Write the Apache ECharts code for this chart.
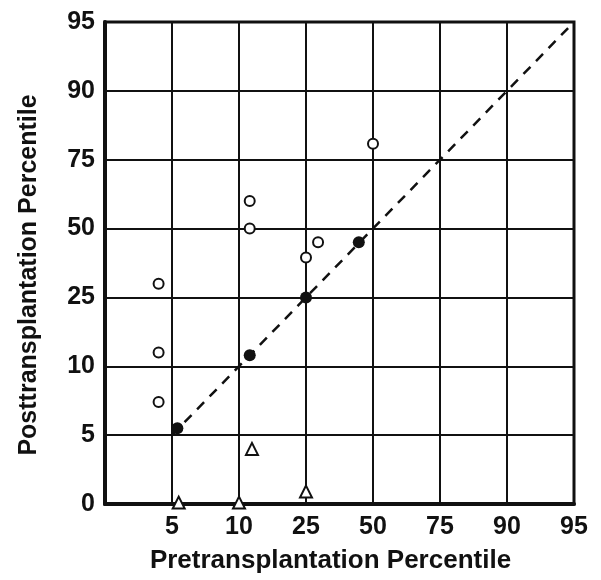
<!DOCTYPE html>
<html><head><meta charset="utf-8">
<script src="https://cdn.jsdelivr.net/npm/echarts@6/dist/echarts.min.js"></script>
<style>html,body{margin:0;padding:0;background:#fff}#c{width:601px;height:580px}</style>
</head><body><div id="c"></div>
<script>
// Percentile tick values (evenly spaced on the chart)
const tickValues = [0, 5, 10, 25, 50, 75, 90, 95];
const xTickLabels = ['', '5', '10', '25', '50', '75', '90', '95'];
const yTickLabels = ['0', '5', '10', '25', '50', '75', '90', '95'];

// Open circles (pre, post)
const openPre  = [4, 4, 4, 12.4, 12.4, 29.5, 25, 50];
const openPost = [30, 13, 7.4, 60, 50, 45, 39.5, 78.5];
// Filled circles
const filledPre  = [5.4, 12.4, 25, 44.7];
const filledPost = [5.5, 12.4, 25, 45];
// Triangles
const triPre  = [5.5, 10, 12.9, 25];
const triPost = [0.1, 0.1, 4, 0.9];
// Reference (identity) line
const linePre  = [5, 95];
const linePost = [5, 95];

// map a percentile onto the evenly spaced tick scale
function toPos(p) {
  for (let i = 1; i < tickValues.length; i++) {
    if (p <= tickValues[i]) {
      const a = tickValues[i - 1], b = tickValues[i];
      return (i - 1) + (p - a) / (b - a);
    }
  }
  return tickValues.length - 1;
}
const pairs = (xs, ys) => xs.map((x, i) => [toPos(x), toPos(ys[i])]);

const FONT = 'Liberation Sans, Arial, sans-serif';
const chart = echarts.init(document.getElementById('c'));
const labelFont = { color: '#111', fontSize: 25, fontWeight: 'bold', fontFamily: FONT };
chart.setOption({
  animation: false,
  backgroundColor: '#fff',
  grid: { left: 105, right: 27, top: 22, bottom: 76, outerBoundsMode: 'none', containLabel: false,
          show: true, borderColor: '#111', borderWidth: 3, backgroundColor: 'transparent' },
  xAxis: {
    type: 'value', min: 0, max: 7, interval: 1,
    name: 'Pretransplantation Percentile', nameLocation: 'middle', nameGap: 44,
    nameTextStyle: { color: '#111', fontSize: 26, fontWeight: 'bold', fontFamily: FONT, padding: [0, 18, 0, 0] },
    axisLine: { show: true, lineStyle: { color: '#111', width: 4 } },
    axisTick: { show: false },
    axisLabel: Object.assign({ margin: 11, formatter: v => xTickLabels[Math.round(v)] }, labelFont),
    splitLine: { show: true, lineStyle: { color: '#111', width: 2 } }
  },
  yAxis: {
    type: 'value', min: 0, max: 7, interval: 1,
    name: 'Posttransplantation Percentile', nameLocation: 'middle', nameGap: 63,
    nameTextStyle: { color: '#111', fontSize: 25, fontWeight: 'bold', fontFamily: FONT, padding: [0, 24, 0, 0] },
    axisLine: { show: true, lineStyle: { color: '#111', width: 4 } },
    axisTick: { show: false },
    axisLabel: Object.assign({ margin: 10, formatter: v => yTickLabels[Math.round(v)] }, labelFont),
    splitLine: { show: true, lineStyle: { color: '#111', width: 2 } }
  },
  series: [
    { type: 'line', data: pairs(linePre, linePost), symbol: 'none', z: 3,
      lineStyle: { color: '#111', width: 2.5, type: [10, 8] } },
    { type: 'scatter', data: pairs(openPre, openPost), symbol: 'circle', symbolSize: 10, z: 4,
      itemStyle: { color: '#fff', borderColor: '#111', borderWidth: 2, opacity: 1 } },
    { type: 'scatter', data: pairs(filledPre, filledPost), symbol: 'circle', symbolSize: 12, z: 5,
      itemStyle: { color: '#111', opacity: 1 } },
    { type: 'scatter', data: pairs(triPre, triPost), symbol: 'triangle', symbolSize: 12, z: 5,
      itemStyle: { color: '#fff', borderColor: '#111', borderWidth: 2, opacity: 1 } }
  ]
});
</script></body></html>
